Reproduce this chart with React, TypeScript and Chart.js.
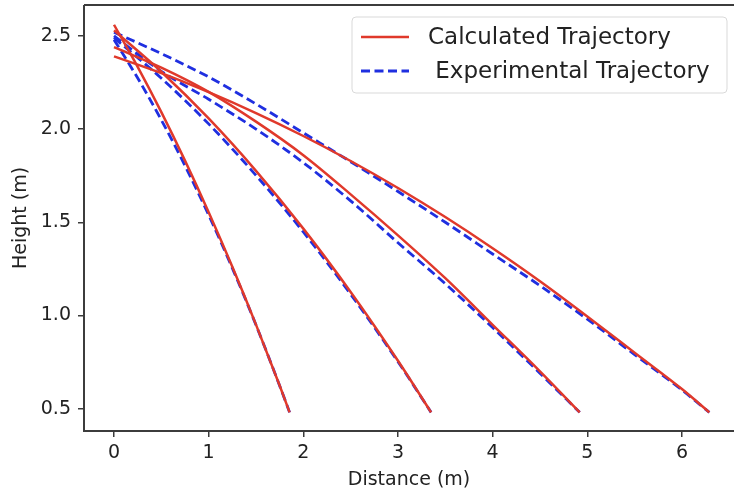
import React, { useEffect, useRef } from "react";
import { Chart, registerables } from "chart.js";

Chart.register(...registerables);

// ---- data ----
const xTicks = [0, 1, 2, 3, 4, 5, 6];
const yTicks = [0.5, 1.0, 1.5, 2.0, 2.5];

const xs1 = [0, 0.25, 0.5, 0.75, 1.0, 1.25, 1.5, 1.75, 1.855];
const calcY1 = [2.56, 2.334, 2.091, 1.831, 1.554, 1.261, 0.951, 0.624, 0.48];
const expY1 = [2.48, 2.274, 2.049, 1.804, 1.539, 1.254, 0.949, 0.623, 0.48];

const xs2 = [0, 0.5, 1.0, 1.5, 2.0, 2.5, 3.0, 3.35];
const calcY2 = [2.53, 2.308, 2.057, 1.776, 1.466, 1.126, 0.757, 0.48];
const expY2 = [2.49, 2.273, 2.028, 1.752, 1.448, 1.114, 0.752, 0.48];

const xs3 = [0, 0.5, 1.0, 1.5, 2.0, 2.5, 3.0, 3.5, 4.0, 4.5, 4.92];
const calcY3 = [2.44, 2.33, 2.2, 2.04, 1.86, 1.65, 1.43, 1.2, 0.95, 0.7, 0.48];
const expY3 = [2.5, 2.31, 2.16, 2.0, 1.82, 1.615, 1.39, 1.17, 0.935, 0.69, 0.48];

const xs4 = [0, 0.5, 1.0, 1.5, 2.0, 2.5, 3.0, 3.5, 4.0, 4.5, 5.0, 5.5, 6.0, 6.29];
const calcY4 = [2.39, 2.3, 2.198, 2.086, 1.963, 1.829, 1.684, 1.528, 1.361, 1.184, 0.995, 0.8, 0.605, 0.48];
const expY4 = [2.52, 2.405, 2.28, 2.135, 1.98, 1.825, 1.665, 1.5, 1.33, 1.16, 0.98, 0.79, 0.6, 0.48];

const legendLabels = ["Calculated Trajectory", " Experimental Trajectory"];
const xTitle = "Distance (m)";
const yTitle = "Height (m)";

// ---- styles ----
const RED = "#e0392b";
const BLUE = "#1f2fe0";
const FONT = "'DejaVu Sans', sans-serif";
const DASH = [9, 4.5];

const pts = (xs: number[], ys: number[]) => xs.map((x, i) => ({ x, y: ys[i] }));

const framePlugin = {
  id: "frame",
  afterDraw(chart: any) {
    const { ctx, chartArea } = chart;
    ctx.save();
    ctx.strokeStyle = "#3c3c3c";
    ctx.lineWidth = 2;
    ctx.beginPath();
    ctx.moveTo(chartArea.left, chartArea.top);
    ctx.lineTo(chartArea.right, chartArea.top);
    ctx.moveTo(chartArea.left, chartArea.top);
    ctx.lineTo(chartArea.left, chartArea.bottom);
    ctx.lineTo(chartArea.right, chartArea.bottom);
    ctx.stroke();

    // legend
    const bx = 352, by = 17, bw = 375, bh = 76, r = 4;
    ctx.fillStyle = "rgba(255,255,255,0.85)";
    ctx.strokeStyle = "#d9d9d9";
    ctx.lineWidth = 1;
    ctx.beginPath();
    ctx.moveTo(bx + r, by);
    ctx.lineTo(bx + bw - r, by);
    ctx.arcTo(bx + bw, by, bx + bw, by + r, r);
    ctx.lineTo(bx + bw, by + bh - r);
    ctx.arcTo(bx + bw, by + bh, bx + bw - r, by + bh, r);
    ctx.lineTo(bx + r, by + bh);
    ctx.arcTo(bx, by + bh, bx, by + bh - r, r);
    ctx.lineTo(bx, by + r);
    ctx.arcTo(bx, by, bx + r, by, r);
    ctx.closePath();
    ctx.fill();
    ctx.stroke();

    const rows = [
      { label: legendLabels[0], color: RED, dash: [] as number[], lw: 2.5, ly: 37, ty: 44 },
      { label: legendLabels[1], color: BLUE, dash: DASH, lw: 2.8, ly: 71, ty: 78 },
    ];
    rows.forEach((row) => {
      ctx.save();
      ctx.strokeStyle = row.color;
      ctx.lineWidth = row.lw;
      ctx.setLineDash(row.dash);
      ctx.beginPath();
      ctx.moveTo(361, row.ly);
      ctx.lineTo(409, row.ly);
      ctx.stroke();
      ctx.restore();
      ctx.fillStyle = "#222";
      ctx.font = `23px ${FONT}`;
      ctx.textBaseline = "alphabetic";
      ctx.textAlign = "left";
      ctx.fillText(row.label, 428, row.ty);
    });
    ctx.restore();
  },
};

export default function App() {
  const ref = useRef<HTMLCanvasElement | null>(null);

  useEffect(() => {
    if (!ref.current) return;
    const calc = [
      pts(xs1, calcY1),
      pts(xs2, calcY2),
      pts(xs3, calcY3),
      pts(xs4, calcY4),
    ];
    const exp = [
      pts(xs1, expY1),
      pts(xs2, expY2),
      pts(xs3, expY3),
      pts(xs4, expY4),
    ];
    const datasets: any[] = [];
    calc.forEach((d, i) =>
      datasets.push({
        label: i === 0 ? legendLabels[0] : `calc${i}`,
        data: d,
        borderColor: RED,
        borderWidth: 2.5,
        pointRadius: 0,
        tension: 0.4,
        cubicInterpolationMode: "monotone",
        fill: false,
      })
    );
    exp.forEach((d, i) =>
      datasets.push({
        label: i === 0 ? legendLabels[1] : `exp${i}`,
        data: d,
        borderColor: BLUE,
        borderWidth: 2.8,
        borderDash: DASH,
        pointRadius: 0,
        tension: 0.4,
        cubicInterpolationMode: "monotone",
        fill: false,
      })
    );

    const chart = new Chart(ref.current, {
      type: "line",
      data: { datasets },
      options: {
        animation: false,
        responsive: false,
        maintainAspectRatio: false,
        layout: { padding: { top: 5, right: 0, left: 0, bottom: 0 } },
        plugins: { legend: { display: false }, tooltip: { enabled: false } },
        scales: {
          x: {
            type: "linear",
            min: -0.317,
            max: 6.55,
            afterBuildTicks: (s: any) => {
              s.ticks = xTicks.map((v) => ({ value: v }));
            },
            afterFit: (s: any) => {
              s.height = 62;
              s.paddingLeft = 0;
              s.paddingRight = 0;
            },
            ticks: {
              font: { family: FONT, size: 19 },
              color: "#222",
              padding: 5,
              maxRotation: 0,
              callback: (v: any) => String(v),
            },
            grid: {
              display: true,
              drawOnChartArea: false,
              drawTicks: true,
              tickLength: 6,
              color: "#3c3c3c",
              lineWidth: 1.5,
            },
            border: { display: false },
            title: {
              display: true,
              text: xTitle,
              font: { family: FONT, size: 19 },
              color: "#222",
              padding: { top: 0, bottom: 1.5 },
            },
          },
          y: {
            type: "linear",
            min: 0.38,
            max: 2.666,
            afterBuildTicks: (s: any) => {
              s.ticks = yTicks.map((v) => ({ value: v }));
            },
            afterFit: (s: any) => {
              s.width = 84;
              s.paddingTop = 0;
              s.paddingBottom = 0;
            },
            ticks: {
              font: { family: FONT, size: 19 },
              color: "#222",
              padding: 7,
              callback: (v: any) => Number(v).toFixed(1),
            },
            grid: {
              display: true,
              drawOnChartArea: false,
              drawTicks: true,
              tickLength: 6,
              color: "#3c3c3c",
              lineWidth: 1.5,
            },
            border: { display: false },
            title: {
              display: true,
              text: yTitle,
              font: { family: FONT, size: 19 },
              color: "#222",
              padding: { top: 10, bottom: 0 },
            },
          },
        },
      },
      plugins: [framePlugin],
    });
    return () => chart.destroy();
  }, []);

  return (
    <div style={{ position: "fixed", left: 0, top: 0, width: 734, height: 493, background: "#fff" }}>
      <canvas ref={ref} width={734} height={493} style={{ display: "block" }} />
    </div>
  );
}
